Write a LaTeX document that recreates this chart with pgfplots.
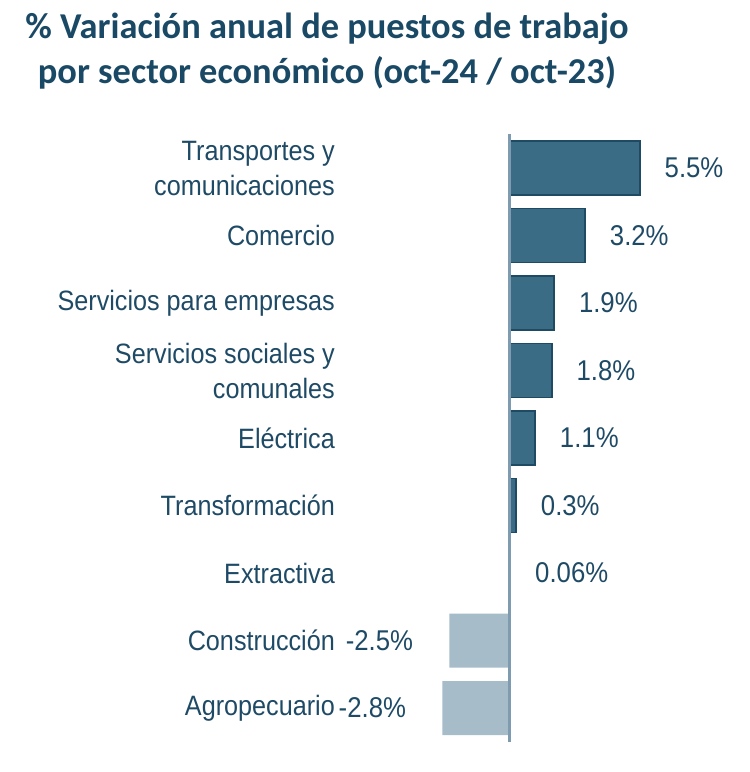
\documentclass[border=0pt]{standalone}
\usepackage{pgfplots}
\pgfplotsset{compat=1.18}
\usepackage{pgfplotstable}
\usepackage{fontspec}
\setmainfont{Liberation Sans}[FakeStretch=0.9]
\newfontfamily\titlefont{Carlito}
\definecolor{titleblue}{HTML}{1A4966}
\definecolor{textblue}{HTML}{1E4A66}
\definecolor{barfill}{HTML}{3B6C85}
\definecolor{barline}{HTML}{1F4A63}
\definecolor{negfill}{HTML}{A7BCC9}
\definecolor{zeroline}{HTML}{7F9BB0}

\pgfplotstableread{
y x lab
8 5.5 5.5
7 3.2 3.2
6 1.9 1.9
5 1.8 1.8
4 1.1 1.1
3 0.3 0.3
2 0.06 0.06
}\pos
\pgfplotstableread{
y x lab
1 -2.5 -2.5
0 -2.8 -2.8
}\negs

\begin{document}
\begin{tikzpicture}
\useasboundingbox (0,0) rectangle (375pt,-386pt);
\node[font=\titlefont\bfseries\fontsize{18.2}{22.5}\selectfont, text=titleblue, align=center]
  at (163.5pt,-25.5pt) {\% Variación anual de puestos de trabajo\\por sector económico (oct-24 / oct-23)};
\begin{axis}[
  at={(254.5pt,-354pt)}, anchor=origin,
  scale only axis, width=205.87pt, height=303.75pt,
  xmin=-7.3, xmax=10, ymin=-0.5, ymax=8.5,
  axis line style={draw=none},
  major tick length=0pt,
  xtick=\empty,
  ytick={0,...,8},
  yticklabels={Agropecuario, Construcción, Extractiva, Transformación, Eléctrica,
    {Servicios sociales y\\comunales}, Servicios para empresas, Comercio,
    {Transportes y\\comunicaciones}},
  yticklabel style={align=right, inner sep=0pt, text=textblue,
    font=\fontsize{14}{17.5}\selectfont},
  xbar, bar width=27pt, bar shift=0pt,
  point meta=explicit symbolic,
  nodes near coords={\pgfplotspointmeta\%},
  clip=false,
]
\addplot[fill=barfill, draw=barline, line width=0.8pt,
  every node near coord/.style={anchor=west, inner sep=0pt, xshift=12pt,
    text=textblue, font=\fontsize{14.3}{17}\selectfont}]
  table[x=x, y=y, meta=lab] {\pos};
\addplot[fill=negfill, draw=none,
  every node near coord/.style={anchor=east, inner sep=0pt, xshift=-18pt,
    text=textblue, font=\fontsize{14.3}{17}\selectfont}]
  table[x=x, y=y, meta=lab] {\negs};
\draw[zeroline, line width=1.5pt] (axis cs:0,-0.5) -- (axis cs:0,8.5);
\end{axis}
\end{tikzpicture}
\end{document}
